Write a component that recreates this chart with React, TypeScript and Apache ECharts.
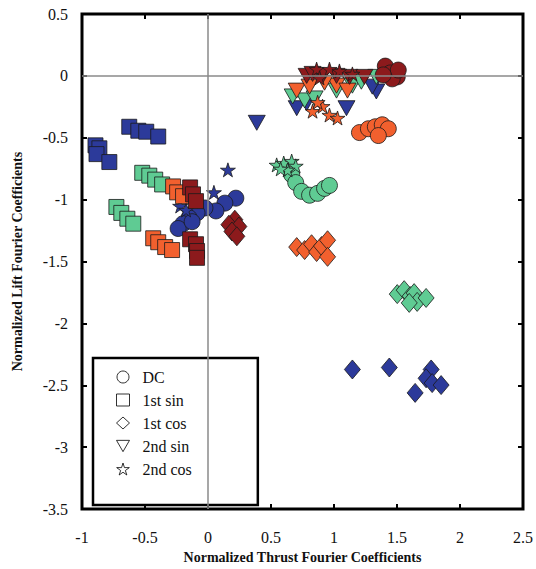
import React, { useEffect, useRef } from "react";
import * as echarts from "echarts";

// ---- data: [thrust, lift] pairs, grouped by harmonic (shape) and case (colour)
const xTicks = [-1, -0.5, 0, 0.5, 1, 1.5, 2, 2.5];
const yTicks = [0.5, 0, -0.5, -1, -1.5, -2, -2.5, -3, -3.5];
const legendNames = ["DC", "1st sin", "1st cos", "2nd sin", "2nd cos"];

// Blue case
const blueDC = [[0.221,-0.988],[0.134,-1.028],[0.063,-1.091],[-0.024,-1.067],[-0.087,-1.107],[-0.15,-1.146],[-0.198,-1.194],[-0.237,-1.233],[-0.126,-1.178]];
const blue1sin = [[-0.625,-0.411],[-0.553,-0.443],[-0.49,-0.451],[-0.395,-0.49],[-0.893,-0.561],[-0.862,-0.585],[-0.885,-0.632],[-0.783,-0.696]];
const blue1cos = [[1.146,-2.372],[1.439,-2.356],[1.771,-2.372],[1.731,-2.443],[1.779,-2.482],[1.85,-2.498],[1.644,-2.561]];
const blue2sin = [[0.387,-0.379],[0.704,-0.261],[0.783,-0.221],[1.099,-0.261],[1.336,-0.126],[1.304,-0.087]];
const blue2cos = [[0.158,-0.759],[0.047,-0.941],[-0.119,-1.012],[-0.221,-1.051],[-0.174,-1.083]];

// Green case
const greenDC = [[0.664,-0.798],[0.696,-0.862],[0.743,-0.933],[0.806,-0.964],[0.87,-0.949],[0.925,-0.909],[0.964,-0.885]];
const green1sin = [[-0.522,-0.783],[-0.466,-0.806],[-0.419,-0.838],[-0.364,-0.877],[-0.727,-1.059],[-0.688,-1.107],[-0.64,-1.154],[-0.593,-1.194]];
const green1cos = [[1.502,-1.763],[1.557,-1.731],[1.605,-1.779],[1.636,-1.755],[1.66,-1.826],[1.731,-1.794],[1.597,-1.834]];
const green2sin = [[0.672,-0.166],[0.767,-0.198],[0.846,-0.182],[1.02,-0.119],[1.146,-0.079],[1.217,-0.047],[1.336,-0.008]];
const green2cos = [[0.545,-0.719],[0.601,-0.704],[0.664,-0.688],[0.696,-0.727],[0.632,-0.759],[0.577,-0.751]];

// Orange case
const orangeDC = [[1.202,-0.458],[1.273,-0.427],[1.328,-0.411],[1.383,-0.395],[1.431,-0.427],[1.352,-0.482]];
const orange1sin = [[-0.277,-0.893],[-0.245,-0.941],[-0.198,-0.972],[-0.435,-1.312],[-0.395,-1.344],[-0.34,-1.383],[-0.285,-1.407]];
const orange1cos = [[0.704,-1.383],[0.767,-1.407],[0.822,-1.36],[0.862,-1.423],[0.901,-1.375],[0.949,-1.328],[0.949,-1.462]];
const orange2sin = [[0.704,-0.119],[0.806,-0.087],[1.02,-0.079],[1.107,-0.119],[0.925,-0.055]];
const orange2cos = [[0.83,-0.285],[0.909,-0.245],[0.964,-0.316],[1.028,-0.34],[0.87,-0.213]];

// Dark red case
const redDC = [[1.407,0.079],[1.447,0.024],[1.502,-0.008],[1.462,-0.024],[1.51,0.047],[1.391,0.008]];
const red1sin = [[-0.142,-0.901],[-0.119,-0.957],[-0.095,-1.012],[-0.142,-1.32],[-0.095,-1.36],[-0.087,-1.415],[-0.087,-1.47]];
const red1cos = [[0.213,-1.162],[0.166,-1.202],[0.245,-1.217],[0.19,-1.257],[0.229,-1.296]];
const red2sin = [[0.783,0],[0.83,0.016],[0.909,0],[1.02,0],[1.123,-0.008],[1.241,-0.008]];
const red2cos = [[0.862,0.055],[0.964,0.055],[1.043,0.04],[1.146,0.016],[0.885,-0.016]];

const BLUE = "#2c3a9a";
const GREEN = "#5fcb93";
const ORANGE = "#f2602e";
const DARKRED = "#8c1a1c";

const STAR = "path://M50,0 L61,35 L98,35 L68,57 L79,91 L50,70 L21,91 L32,57 L2,35 L39,35 Z";
const TRI_DOWN = "path://M0,0 L100,0 L50,87 Z";

const shapes: Record<string, { symbol: string; size: number | number[] }> = {
  "DC": { symbol: "circle", size: 16 },
  "1st sin": { symbol: "rect", size: 15 },
  "1st cos": { symbol: "diamond", size: [16, 19] },
  "2nd sin": { symbol: TRI_DOWN, size: [17, 15] },
  "2nd cos": { symbol: STAR, size: [15, 14] },
};

const groups: { color: string; label: string; sets: number[][][] }[] = [
  { color: BLUE, label: "blue", sets: [blueDC, blue1sin, blue1cos, blue2sin, blue2cos] },
  { color: GREEN, label: "green", sets: [greenDC, green1sin, green1cos, green2sin, green2cos] },
  { color: ORANGE, label: "orange", sets: [orangeDC, orange1sin, orange1cos, orange2sin, orange2cos] },
  { color: DARKRED, label: "darkred", sets: [redDC, red1sin, red1cos, red2sin, red2cos] },
];

const FONT = "'Liberation Serif', 'DejaVu Serif', serif";

export default function App() {
  const ref = useRef<HTMLDivElement>(null);
  useEffect(() => {
    if (!ref.current) return;
    const chart = echarts.init(ref.current, undefined, { renderer: "svg" });

    const dataSeries: any[] = [];
    groups.forEach((g) => {
      g.sets.forEach((pts, i) => {
        const nm = legendNames[i];
        dataSeries.push({
          type: "scatter",
          name: nm + " " + g.label,
          data: pts,
          symbol: shapes[nm].symbol,
          symbolSize: shapes[nm].size,
          itemStyle: { color: g.color, borderColor: "#1a1a1a", borderWidth: 0.8, opacity: 1 },
          z: 3,
        });
      });
    });

    const legendSeries = legendNames.map((nm) => ({
      type: "scatter",
      name: nm,
      data: [],
      symbol: shapes[nm].symbol,
      itemStyle: { color: "#fff", borderColor: "#000", borderWidth: 1 },
    }));

    const tick = { show: true, inside: true, length: 5, lineStyle: { color: "#000", width: 2 } };
    const axisCommon = {
      min: -1,
      max: 2.5,
      interval: 0.5,
      splitLine: { show: false },
      axisLine: { show: false, onZero: false },
    };
    const yCommon = {
      min: -3.5,
      max: 0.5,
      interval: 0.5,
      splitLine: { show: false },
      axisLine: { show: false, onZero: false },
    };

    chart.setOption({
      animation: false,
      backgroundColor: "#fff",
      grid: {
        left: 82,
        right: 10,
        top: 14,
        bottom: 40,
        show: true,
        borderColor: "#000",
        borderWidth: 3,
      },
      xAxis: [
        {
          ...axisCommon,
          type: "value",
          position: "bottom",
          axisTick: tick,
          axisLabel: {
            color: "#111",
            fontFamily: FONT,
            fontSize: 16,
            margin: 20,
            formatter: (v: number) => (xTicks.includes(v) ? String(v) : ""),
          },
          name: "Normalized Thrust Fourier Coefficients",
          nameLocation: "middle",
          nameGap: 28,
          nameTextStyle: { fontFamily: FONT, fontWeight: "bold", fontSize: 14, color: "#111" },
        },
        {
          ...axisCommon,
          type: "value",
          position: "top",
          axisTick: tick,
          axisLabel: { show: false },
        },
      ],
      yAxis: [
        {
          ...yCommon,
          type: "value",
          position: "left",
          axisTick: tick,
          axisLabel: {
            color: "#111",
            fontFamily: FONT,
            fontSize: 16,
            margin: 14,
            formatter: (v: number) => (yTicks.includes(v) ? String(v) : ""),
          },
          name: "Normalized Lift Fourier Coefficients",
          nameLocation: "middle",
          nameGap: 58,
          nameRotate: 90,
          nameTextStyle: { fontFamily: FONT, fontWeight: "bold", fontSize: 14, color: "#111" },
        },
        {
          ...yCommon,
          type: "value",
          position: "right",
          axisTick: tick,
          axisLabel: { show: false },
        },
      ],
      legend: {
        data: legendNames.map((nm) => ({
          name: nm,
          icon: shapes[nm].symbol,
          itemStyle: { color: "#fff", borderColor: "#000", borderWidth: 1 },
        })),
        orient: "vertical",
        left: 93,
        top: 358,
        itemWidth: 13,
        itemHeight: 12,
        itemGap: 7,
        padding: [11, 66, 28, 23],
        borderColor: "#000",
        borderWidth: 2.5,
        backgroundColor: "#fff",
        selectedMode: false,
        textStyle: { fontFamily: FONT, fontSize: 16, color: "#111", lineHeight: 16, padding: [0, 0, 0, 8] },
      },
      series: [
        {
          type: "scatter",
          name: "refs",
          data: [],
          z: 1,
          markLine: {
            silent: true,
            symbol: ["none", "none"],
            label: { show: false },
            lineStyle: { color: "#8a8a8a", width: 1.5, type: "solid" },
            data: [{ xAxis: 0 }, { yAxis: 0 }],
          },
        },
        ...dataSeries,
        ...legendSeries,
      ],
    });
    return () => chart.dispose();
  }, []);
  return <div ref={ref} style={{ width: 536, height: 569, position: "absolute", left: 0, top: 0 }} />;
}
